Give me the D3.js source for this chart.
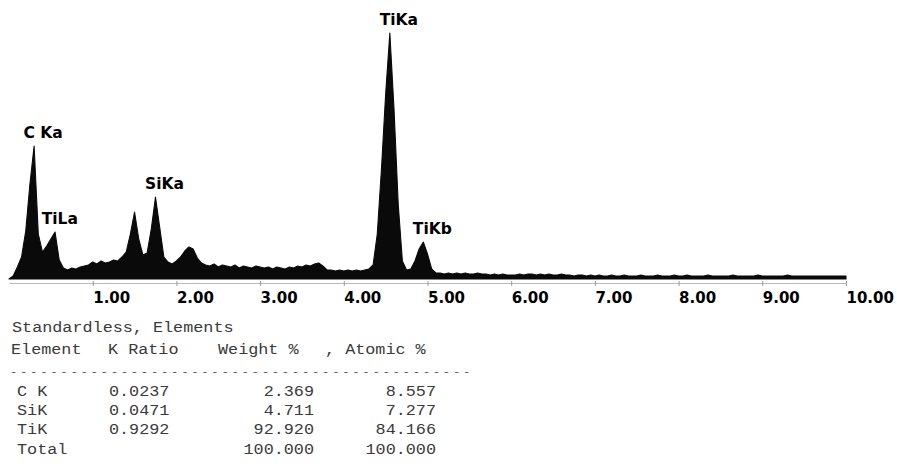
<!DOCTYPE html>
<html>
<head>
<meta charset="utf-8">
<script src="https://cdn.jsdelivr.net/npm/d3@7"></script>
<style>
  body { margin: 0; background: #fff; }
  .tick text { font-family: "DejaVu Sans", sans-serif; font-weight: bold; font-size: 15px; fill: #000; }
  .peak { font-family: "DejaVu Sans", sans-serif; font-weight: bold; font-size: 15.5px; fill: #000; }
  .tbl text { font-family: "Liberation Mono", monospace; font-size: 15px; fill: #3a3a3a; }
  .tbl text.dash { font-size: 11px; letter-spacing: 2.4px; fill: #555; }
</style>
</head>
<body>
<div id="chart"></div>
<script>
// EDS spectrum, counts per 0.05 keV bin from 0 to 10 keV
var binWidth = 0.05;
var counts = [
  0, 3, 12, 22, 48, 95, 133, 45, 27, 33,
  40, 47, 19, 11, 9, 11, 10, 12, 13, 14,
  17, 15, 18, 16, 17, 19, 18, 22, 27, 45,
  67, 40, 24, 26, 50, 82, 52, 22, 17, 15,
  18, 22, 28, 32, 30, 21, 16, 14, 13, 15,
  12, 14, 13, 12, 14, 11, 13, 12, 11, 13,
  12, 11, 12, 10, 12, 11, 10, 12, 11, 13,
  12, 14, 13, 15, 16, 13, 9, 9, 8, 9,
  8, 9, 8, 9, 8, 9, 10, 14, 45, 110,
  185, 246, 170, 75, 18, 9, 10, 18, 30, 37,
  25, 10, 6, 6, 5, 6, 5, 6, 5, 6,
  5, 5, 6, 5, 5, 4, 5, 4, 5, 4,
  4, 4, 5, 4, 5, 5, 4, 5, 4, 5,
  4, 4, 5, 4, 4, 3, 4, 4, 3, 4,
  3, 4, 3, 3, 4, 3, 3, 4, 3, 3,
  3, 4, 3, 3, 3, 4, 3, 3, 3, 4,
  3, 3, 4, 3, 3, 3, 3, 4, 3, 3,
  3, 3, 3, 4, 3, 3, 3, 3, 3, 4,
  3, 3, 3, 3, 3, 3, 4, 3, 3, 3,
  3, 3, 3, 3, 3, 3, 3, 3, 3, 3,
  3
];

// axis ticks (keV)
var tickValues = [1, 2, 3, 4, 5, 6, 7, 8, 9, 10];

// peak labels
var peakNames = ["C Ka", "TiLa", "SiKa", "TiKa", "TiKb"];
var peakEnergy = [0.30, 0.50, 1.75, 4.55, 4.95];
var peakCounts = [133, 47, 82, 246, 37];

// quantification table
var tableTitle = "Standardless, Elements";
var tableHeader = ["Element", "K Ratio", "Weight %", ", Atomic %"];
var elements = ["C K", "SiK", "TiK", "Total"];
var kRatio = ["0.0237", "0.0471", "0.9292", ""];
var weightPct = ["2.369", "4.711", "92.920", "100.000"];
var atomicPct = ["8.557", "7.277", "84.166", "100.000"];

var svgWidth = 897;
var svgHeight = 469;

var svg = d3.select("#chart")
  .append("svg")
  .attr("width", svgWidth)
  .attr("height", svgHeight);

var spectrum = counts.map(function(c, i) {
  return { e: i * binWidth, c: c };
});

// scales
var xScale = d3.scaleLinear().domain([0, 10]).range([9, 846]);
var yScale = d3.scaleLinear().domain([0, 250]).range([279, 29]);

// spectrum area
var area = d3.area()
  .x(d => xScale(d.e))
  .y0(yScale(0))
  .y1(d => yScale(d.c));

svg.append("path")
  .datum(spectrum)
  .attr("d", area)
  .attr("fill", "#0a0a0a")
  .attr("stroke", "#0a0a0a")
  .attr("stroke-width", 1.1)
  .attr("stroke-linejoin", "round");

// energy axis
var bottomAxis = d3.axisBottom(xScale)
  .tickValues(tickValues)
  .tickFormat(d3.format(".2f"))
  .tickSizeInner(3)
  .tickSizeOuter(0);

var xAxis = svg.append("g")
  .attr("transform", "translate(0, 283)")
  .call(bottomAxis);

xAxis.select(".domain").attr("stroke", "#b8b8b8");
xAxis.selectAll(".tick line").attr("stroke", "#999").attr("y1", -2);
xAxis.selectAll(".tick text")
  .attr("text-anchor", "start")
  .attr("x", 0)
  .attr("y", 9)
  .attr("dy", "0.71em");

// peak labels
svg.selectAll(".peak")
  .data(peakNames)
  .enter()
  .append("text")
  .attr("class", "peak")
  .attr("text-anchor", "middle")
  .attr("x", (d, i) => xScale(peakEnergy[i]) + 9)
  .attr("y", (d, i) => yScale(peakCounts[i]) - 8)
  .text(d => d);

// table (scan is stretched horizontally)
var sx = 1.12;
var tbl = svg.append("g")
  .attr("class", "tbl")
  .attr("transform", `scale(${sx}, 1)`);

tbl.append("text").attr("x", 12 / sx).attr("y", 332).text(tableTitle);

var headerX = [11, 108, 218, 325];
tbl.selectAll(".hdr")
  .data(tableHeader)
  .enter()
  .append("text")
  .attr("class", "hdr")
  .attr("x", (d, i) => headerX[i] / sx)
  .attr("y", 354)
  .text(d => d);

tbl.append("text")
  .attr("class", "dash")
  .attr("x", 10 / sx)
  .attr("y", 375)
  .text(d3.range(46).map(() => "-").join(""));

var rowY = [396, 415, 434, 454];
var rows = tbl.selectAll(".row")
  .data(elements)
  .enter()
  .append("g")
  .attr("class", "row")
  .attr("transform", (d, i) => `translate(0, ${rowY[i]})`);

rows.append("text").attr("x", 17 / sx).text(d => d);
rows.append("text").attr("x", 109 / sx).text((d, i) => kRatio[i]);
rows.append("text").attr("x", 314 / sx).attr("text-anchor", "end").text((d, i) => weightPct[i]);
rows.append("text").attr("x", 436 / sx).attr("text-anchor", "end").text((d, i) => atomicPct[i]);
</script>
</body>
</html>
